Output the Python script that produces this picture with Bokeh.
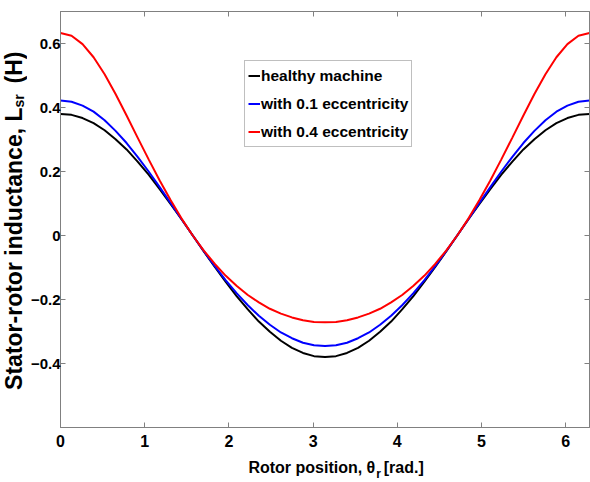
from bokeh.plotting import figure
from bokeh.layouts import row, column
from bokeh.models import Range1d, LinearAxis, FixedTicker, Label, CustomJSTickFormatter
from bokeh.embed import file_html
from bokeh.resources import INLINE

# Rotor position (rad)
theta = [0.000, 0.131, 0.262, 0.393, 0.524, 0.654, 0.785, 0.916, 1.047, 1.178,
         1.309, 1.440, 1.571, 1.702, 1.833, 1.963, 2.094, 2.225, 2.356, 2.487,
         2.618, 2.749, 2.880, 3.011, 3.142, 3.272, 3.403, 3.534, 3.665, 3.796,
         3.927, 4.058, 4.189, 4.320, 4.451, 4.581, 4.712, 4.843, 4.974, 5.105,
         5.236, 5.367, 5.498, 5.629, 5.760, 5.890, 6.021, 6.152, 6.283]

healthy = [0.380, 0.377, 0.367, 0.351, 0.329, 0.301, 0.269, 0.231, 0.190, 0.145,
           0.098, 0.050, 0.000, -0.050, -0.098, -0.145, -0.190, -0.231, -0.269, -0.301,
           -0.329, -0.351, -0.367, -0.377, -0.380, -0.377, -0.367, -0.351, -0.329, -0.301,
           -0.269, -0.231, -0.190, -0.145, -0.098, -0.050, 0.000, 0.050, 0.098, 0.145,
           0.190, 0.231, 0.269, 0.301, 0.329, 0.351, 0.367, 0.377, 0.380]

ecc_01 = [0.422, 0.418, 0.406, 0.387, 0.360, 0.327, 0.289, 0.246, 0.200, 0.151,
          0.101, 0.050, 0.000, -0.049, -0.096, -0.140, -0.181, -0.218, -0.251, -0.279,
          -0.303, -0.321, -0.335, -0.343, -0.345, -0.343, -0.335, -0.321, -0.303, -0.279,
          -0.251, -0.218, -0.181, -0.140, -0.096, -0.049, 0.000, 0.050, 0.101, 0.151,
          0.200, 0.246, 0.289, 0.327, 0.360, 0.387, 0.406, 0.418, 0.422]

ecc_04 = [0.633, 0.624, 0.598, 0.557, 0.504, 0.442, 0.375, 0.306, 0.238, 0.172,
          0.110, 0.052, 0.000, -0.047, -0.089, -0.126, -0.158, -0.186, -0.209, -0.229,
          -0.244, -0.256, -0.265, -0.270, -0.271, -0.270, -0.265, -0.256, -0.244, -0.229,
          -0.209, -0.186, -0.158, -0.126, -0.089, -0.047, 0.000, 0.052, 0.110, 0.172,
          0.238, 0.306, 0.375, 0.442, 0.504, 0.557, 0.598, 0.624, 0.633]

series_labels = ["healthy machine", "with 0.1 eccentricity", "with 0.4 eccentricity"]
x_ticks = [0, 1, 2, 3, 4, 5, 6]
y_ticks = [-0.4, -0.2, 0, 0.2, 0.4, 0.6]

FONT = "Liberation Sans"
AX = "#808080"
YLAB_W = 27
MAIN_H = 455

# ---------------- main plot ----------------
p = figure(width=590 - YLAB_W, height=MAIN_H, output_backend="svg", toolbar_location=None,
           x_range=Range1d(0, 6.2832), y_range=Range1d(-0.6, 0.7),
           min_border_left=60 - YLAB_W, min_border_right=1, min_border_top=11,
           min_border_bottom=MAIN_H - 427, background_fill_color="white")
p.xgrid.visible = False
p.ygrid.visible = False
p.outline_line_color = AX


def style_axis(ax, show_labels, size="16px"):
    ax.axis_line_color = AX
    ax.major_tick_line_color = AX
    ax.major_tick_in = 5
    ax.major_tick_out = 0
    ax.minor_tick_line_color = None
    ax.major_label_text_font = FONT
    ax.major_label_text_font_style = "bold"
    ax.major_label_text_font_size = size
    ax.major_label_text_color = "black"
    if not show_labels:
        ax.formatter = CustomJSTickFormatter(code="return ''")
        ax.major_label_text_color = None
        ax.major_label_standoff = 0


xa = p.xaxis[0]
xa.ticker = FixedTicker(ticks=x_ticks)
style_axis(xa, True, "16px")
xa.major_label_standoff = 7

ya = p.yaxis[0]
ya.ticker = FixedTicker(ticks=y_ticks)
style_axis(ya, True, "15px")
ya.major_label_standoff = 0
ya.major_label_overrides = {0: "0"}

top = LinearAxis(ticker=FixedTicker(ticks=x_ticks))
style_axis(top, False)
p.add_layout(top, "above")
right = LinearAxis(ticker=FixedTicker(ticks=y_ticks))
style_axis(right, False)
p.add_layout(right, "right")

p.line(theta, healthy, line_color="black", line_width=2, legend_label=series_labels[0])
p.line(theta, ecc_01, line_color="#0000ff", line_width=2, legend_label=series_labels[1])
p.line(theta, ecc_04, line_color="#ff0000", line_width=2, legend_label=series_labels[2])

lg = p.legend[0]
lg.location = (184, 280)
lg.label_text_font = FONT
lg.label_text_font_style = "bold"
lg.label_text_font_size = "15.5px"
lg.label_text_color = "black"
lg.glyph_width = 12
lg.glyph_height = 23
lg.label_height = 23
lg.label_standoff = 1
lg.spacing = 5
lg.padding = 3
lg.margin = 0
lg.border_line_color = AX
lg.border_line_width = 1
lg.background_fill_alpha = 1


def text_panel(w, h, x0, x1, y0, y1):
    f = figure(width=w, height=h, output_backend="svg", toolbar_location=None,
               x_range=Range1d(x0, x1), y_range=Range1d(y0, y1),
               x_axis_type=None, y_axis_type=None,
               min_border_left=0, min_border_right=0, min_border_top=0, min_border_bottom=0)
    f.outline_line_color = None
    f.xgrid.visible = False
    f.ygrid.visible = False
    return f


# ---------------- x axis label (page pixel coordinates) ----------------
xl = text_panel(590 - YLAB_W, 482 - MAIN_H, YLAB_W, 590, 482, MAIN_H)
xl.add_layout(Label(x=362, y=466.5, text="Rotor position, θ", text_align="right",
                    text_baseline="alphabetic", text_font=FONT, text_font_style="bold",
                    text_font_size="16px", text_color="black"))
xl.add_layout(Label(x=363, y=473.5, text="r", text_align="left",
                    text_baseline="alphabetic", text_font=FONT, text_font_style="bold",
                    text_font_size="12px", text_color="black"))
xl.add_layout(Label(x=371, y=466.5, text="[rad.]", text_align="left",
                    text_baseline="alphabetic", text_font=FONT, text_font_style="bold",
                    text_font_size="16px", text_color="black"))

# ---------------- y axis label (page pixel coordinates), rotated ----------------
yl = text_panel(YLAB_W, 482, 0, YLAB_W, 482, 0)
yl.add_layout(Label(x=13.5, y=107, text="Stator-rotor inductance, L", angle=90,
                    angle_units="deg", text_align="right", text_baseline="middle",
                    text_font=FONT, text_font_style="bold",
                    text_font_size="23px", text_color="black"))
yl.add_layout(Label(x=18.9, y=107, text="sr", angle=90, angle_units="deg",
                    text_align="left", text_baseline="middle",
                    text_font=FONT, text_font_style="bold",
                    text_font_size="14px", text_color="black"))
yl.add_layout(Label(x=13.5, y=83, text="(H)", angle=90, angle_units="deg",
                    text_align="left", text_baseline="middle",
                    text_font=FONT, text_font_style="bold",
                    text_font_size="23px", text_color="black"))

layout = row(yl, column(p, xl, spacing=0), spacing=0)
open("out.html", "w").write(file_html(layout, INLINE))
